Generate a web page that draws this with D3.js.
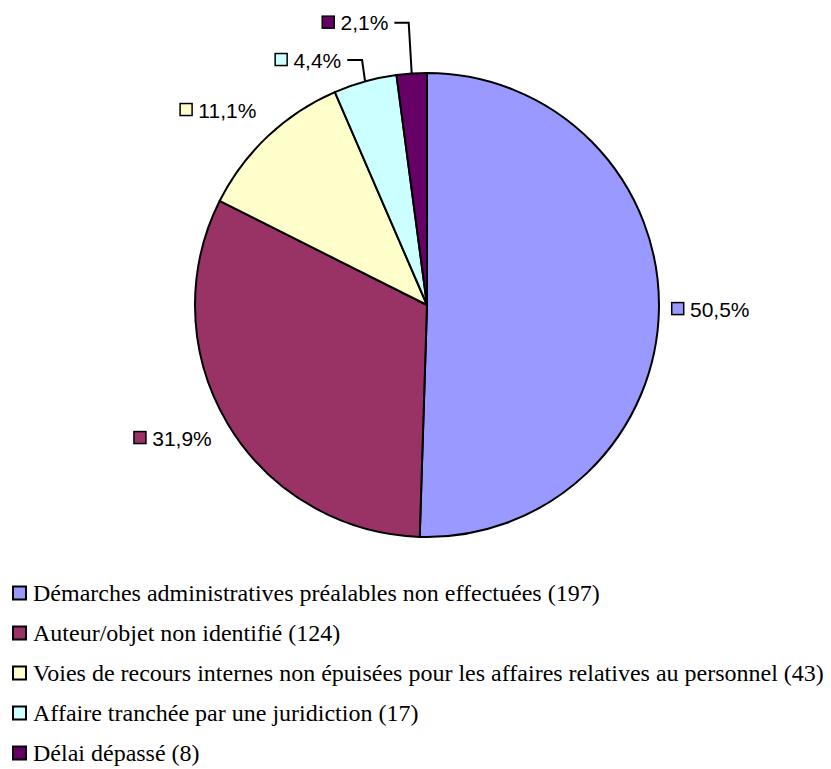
<!DOCTYPE html>
<html>
<head>
<meta charset="utf-8">
<script src="https://cdn.jsdelivr.net/npm/d3@7"></script>
<style>
  html, body { margin: 0; padding: 0; background: #fff; }
  svg { display: block; }
</style>
</head>
<body>
<svg id="chart" width="831" height="769"></svg>
<script>
// Irrecevabilités : répartition par motif
const categories = [
  "Démarches administratives préalables non effectuées",
  "Auteur/objet non identifié",
  "Voies de recours internes non épuisées pour les affaires relatives au personnel",
  "Affaire tranchée par une juridiction",
  "Délai dépassé"
];
const counts = [197, 124, 43, 17, 8];
const percents = [50.5, 31.9, 11.1, 4.4, 2.1];
const colors = ["#9999FF", "#993366", "#FFFFCC", "#CCFFFF", "#660066"];

const svg = d3.select("#chart");
const cx = 427, cy = 305, r = 232;
const sansFont = "'Liberation Sans', Arial, sans-serif";
const serifFont = "'Liberation Serif', 'Times New Roman', serif";

const pie = d3.pie().sort(null).value(d => d.value).startAngle(0).endAngle(2 * Math.PI);
const data = pie(percents.map((v, i) => ({ value: v, i })));
const arc = d3.arc().innerRadius(0).outerRadius(r);

const g = svg.append("g").attr("transform", `translate(${cx},${cy})`);

g.selectAll("path.slice")
  .data(data)
  .join("path")
  .attr("class", "slice")
  .attr("d", arc)
  .attr("fill", d => colors[d.data.i])
  .attr("stroke", "#000")
  .attr("stroke-width", 2)
  .attr("stroke-linejoin", "round");

// Percentage labels outside the pie
const fmt = v => v.toFixed(1).replace(".", ",") + "%";
const labelRadius = r + 18;
// Small slices have their labels pulled aside and joined by a leader line
const labelNudge = [[-6, 0], [-6, 0], [-11, -6], [-43.5, 5.6], [-53.4, -22.9]];
const useLeader = [false, false, false, true, true];

data.forEach((d, k) => {
  const mid = (d.startAngle + d.endAngle) / 2;
  const sx = Math.sin(mid), sy = -Math.cos(mid);
  const lg = g.append("g");
  lg.append("rect")
    .attr("x", 0.75).attr("y", -6.5)
    .attr("width", 12).attr("height", 12)
    .attr("fill", colors[d.data.i])
    .attr("stroke", "#000").attr("stroke-width", 1.5);
  const t = lg.append("text")
    .attr("x", 19).attr("y", 7.5)
    .attr("font-family", sansFont)
    .attr("font-size", 21)
    .attr("fill", "#000")
    .text(fmt(percents[k]));
  const w = 19 + t.node().getComputedTextLength();
  const hw = w / 2, hh = 10;
  const lx = labelRadius * sx + hw * sx + labelNudge[k][0];
  const ly = labelRadius * sy + hh * sy + labelNudge[k][1];
  lg.attr("transform", `translate(${lx - hw},${ly})`);

  if (useLeader[k]) {
    const ax = r * sx, ay = r * sy;
    const x0 = lx + hw + 6;
    const x1 = ax - 3;
    g.append("path")
      .attr("d", `M${x0},${ly}L${x1},${ly}L${ax},${ay}`)
      .attr("fill", "none")
      .attr("stroke", "#000")
      .attr("stroke-width", 2);
  }
});

// Legend
const legend = svg.append("g").attr("transform", "translate(0,593)");
const rowGap = 40;
categories.forEach((c, i) => {
  const row = legend.append("g").attr("transform", `translate(0,${i * rowGap})`);
  row.append("rect")
    .attr("x", 13).attr("y", -6.5)
    .attr("width", 13).attr("height", 13)
    .attr("fill", colors[i])
    .attr("stroke", "#000").attr("stroke-width", 2);
  row.append("text")
    .attr("x", 33).attr("y", 8)
    .attr("font-family", serifFont)
    .attr("font-size", 24)
    .attr("fill", "#000")
    .text(`${c} (${counts[i]})`);
});
</script>
</body>
</html>
